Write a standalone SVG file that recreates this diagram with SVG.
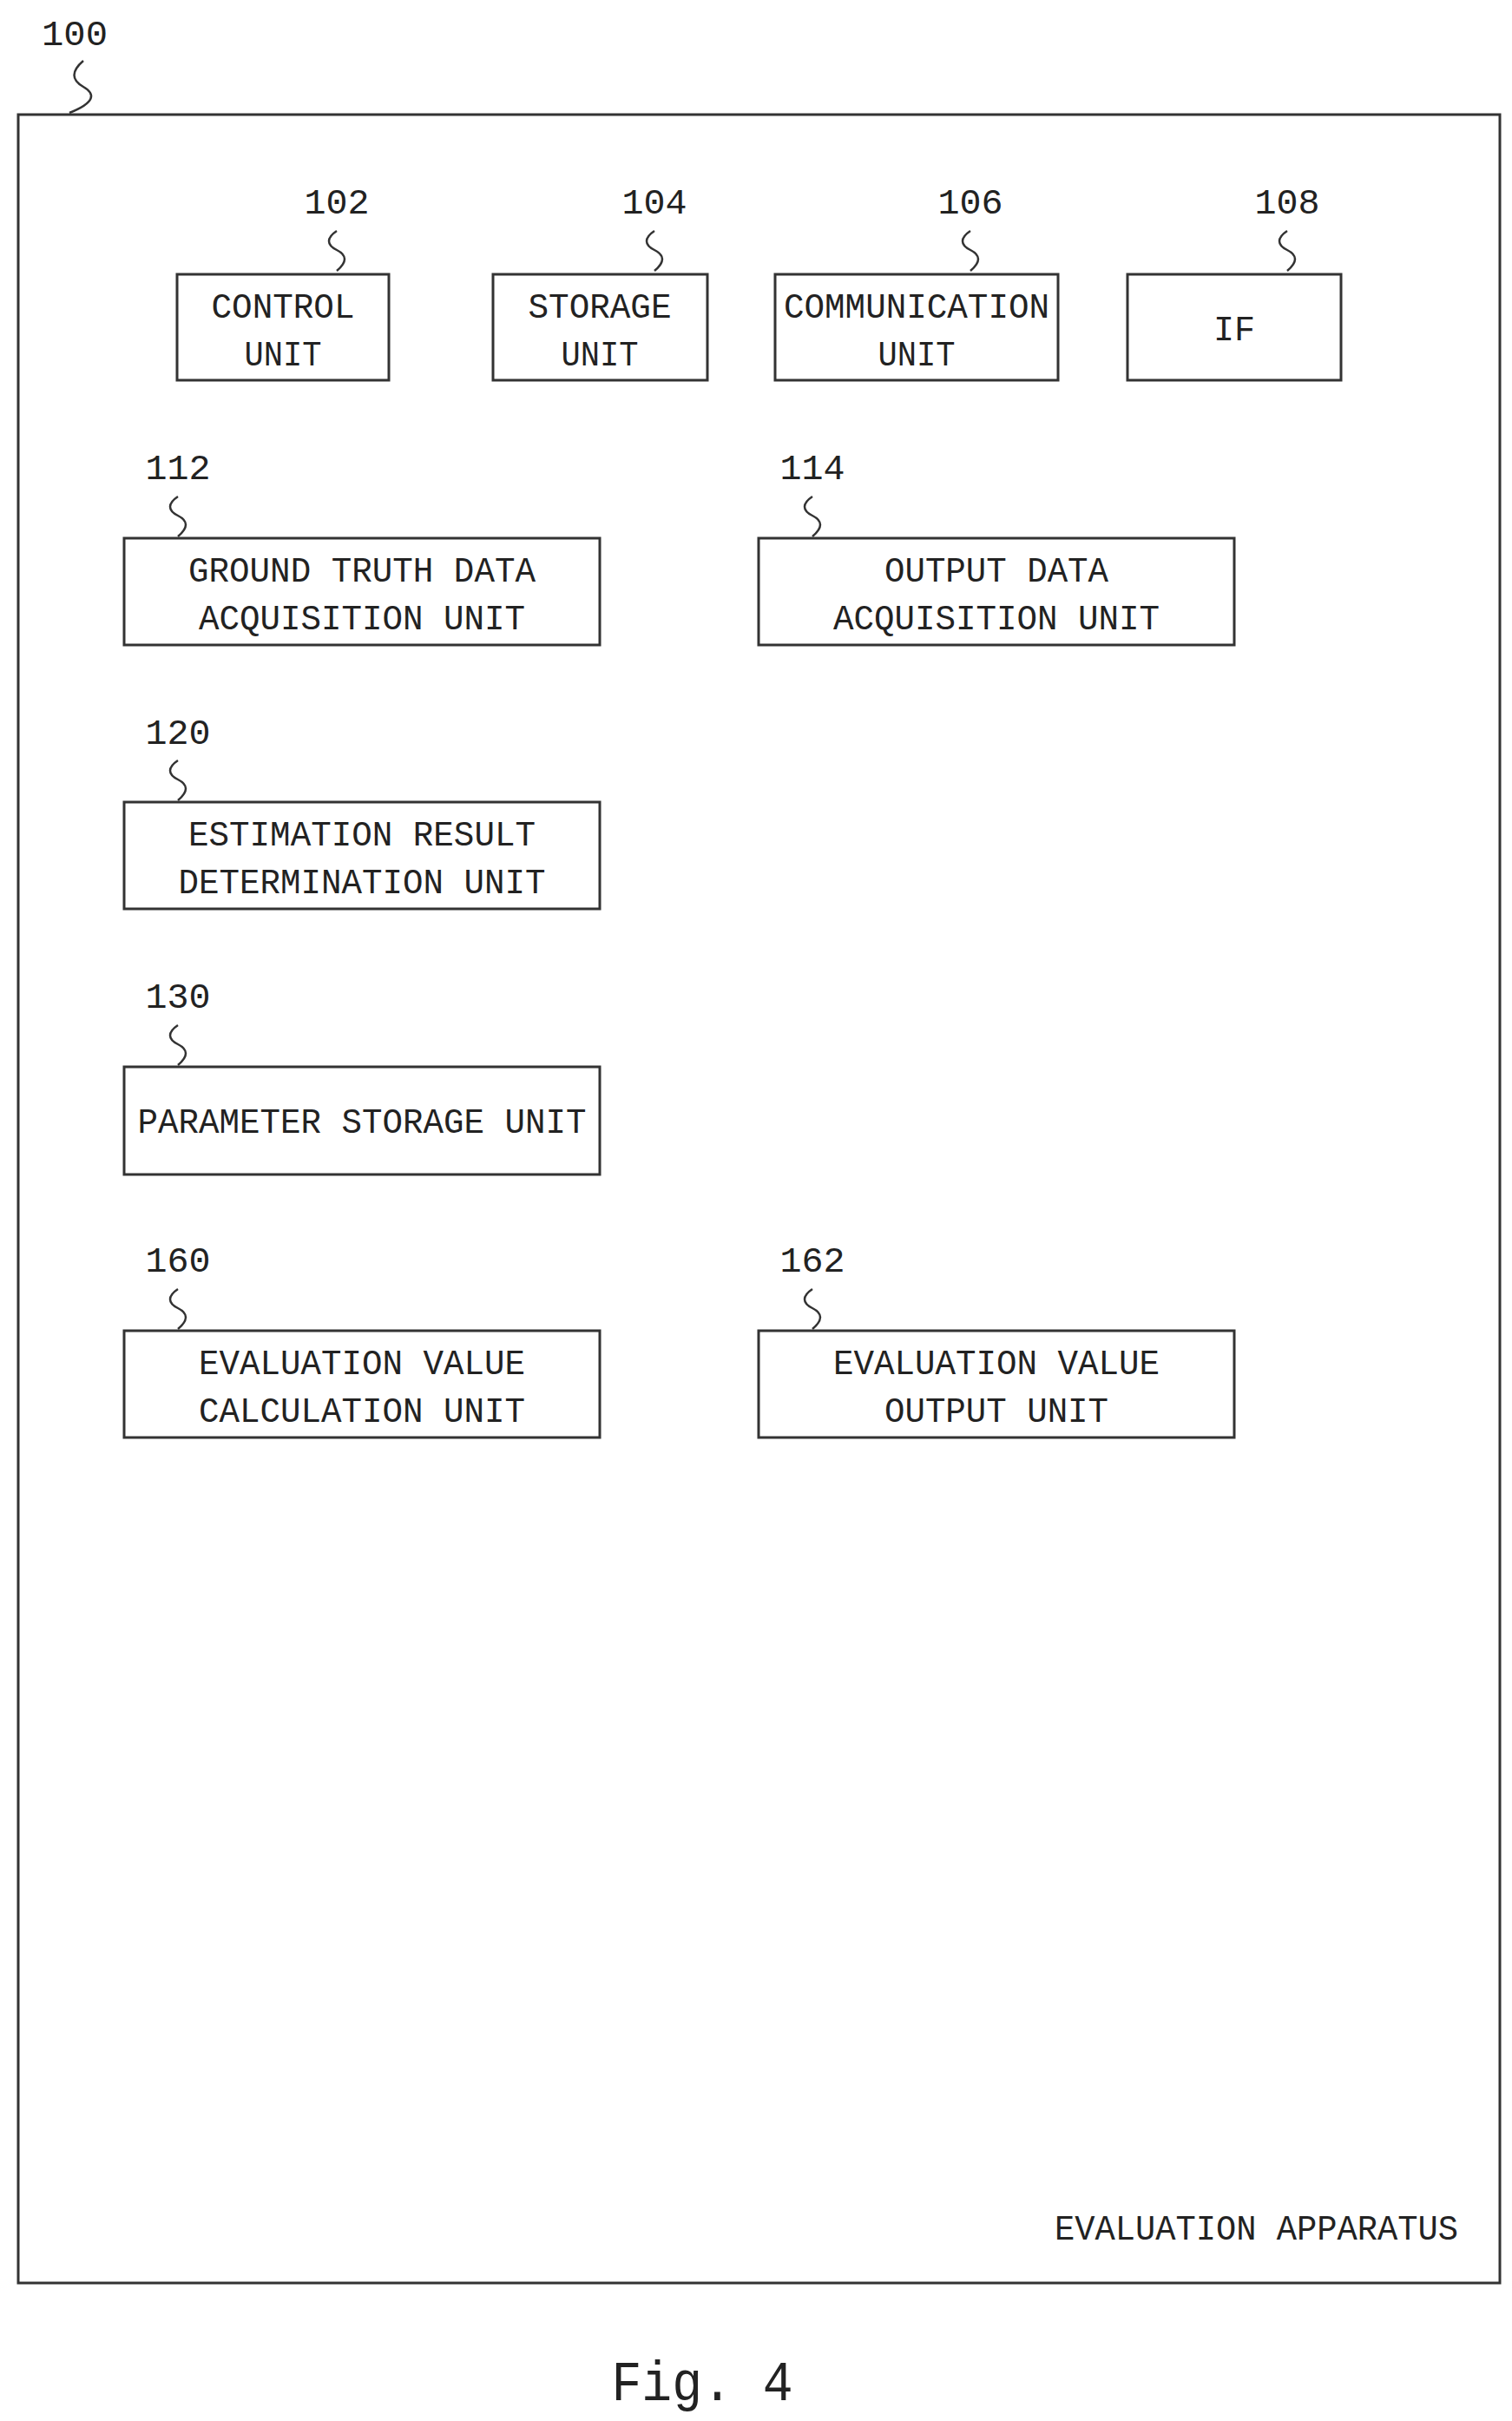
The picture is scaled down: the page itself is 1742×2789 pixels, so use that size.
<svg xmlns="http://www.w3.org/2000/svg" width="1742" height="2789" viewBox="0 0 1742 2789">
<style>
.b{fill:none;stroke:#333;stroke-width:3}
.t{font-family:"Liberation Mono",monospace;font-size:40px;fill:#222;text-anchor:middle}
.s{fill:none;stroke:#333;stroke-width:2.5}
</style>
<defs><path id="sq" class="s" d="M0 0 c-12 8 -12 16 0 22 s12 14 0 24"/></defs>
<rect width="1742" height="2789" fill="#fff"/>
<g id="n100">
<rect class="b" x="21" y="132" width="1707" height="2498"/>
<text class="t" x="86" y="52" textLength="76" lengthAdjust="spacingAndGlyphs">100</text>
<path class="s" d="M96 70 c-14 12 -14 22 0 30 s14 18 -16 30"/>
<text class="t" x="1680" y="2580" text-anchor="end" style="text-anchor:end" textLength="465" lengthAdjust="spacingAndGlyphs">EVALUATION APPARATUS</text>
</g>
<g id="n102"><rect class="b" x="204" y="316" width="244" height="122"/>
<text class="t" x="388" y="246" textLength="75" lengthAdjust="spacingAndGlyphs">102</text><use href="#sq" x="388" y="266"/>
<text class="t" x="326" y="366" textLength="165" lengthAdjust="spacingAndGlyphs">CONTROL</text>
<text class="t" x="326" y="421" textLength="89" lengthAdjust="spacingAndGlyphs">UNIT</text></g>
<g id="n104"><rect class="b" x="568" y="316" width="247" height="122"/>
<text class="t" x="754" y="246" textLength="75" lengthAdjust="spacingAndGlyphs">104</text><use href="#sq" x="754" y="266"/>
<text class="t" x="691" y="366" textLength="165" lengthAdjust="spacingAndGlyphs">STORAGE</text>
<text class="t" x="691" y="421" textLength="89" lengthAdjust="spacingAndGlyphs">UNIT</text></g>
<g id="n106"><rect class="b" x="893" y="316" width="326" height="122"/>
<text class="t" x="1118" y="246" textLength="75" lengthAdjust="spacingAndGlyphs">106</text><use href="#sq" x="1118" y="266"/>
<text class="t" x="1056" y="366" textLength="306" lengthAdjust="spacingAndGlyphs">COMMUNICATION</text>
<text class="t" x="1056" y="421" textLength="89" lengthAdjust="spacingAndGlyphs">UNIT</text></g>
<g id="n108"><rect class="b" x="1299" y="316" width="246" height="122"/>
<text class="t" x="1483" y="246" textLength="75" lengthAdjust="spacingAndGlyphs">108</text><use href="#sq" x="1483" y="266"/>
<text class="t" x="1422" y="392">IF</text></g>
<g id="n112"><rect class="b" x="143" y="620" width="548" height="123"/>
<text class="t" x="205" y="552" textLength="75" lengthAdjust="spacingAndGlyphs">112</text><use href="#sq" x="205" y="572"/>
<text class="t" x="417" y="670" textLength="400" lengthAdjust="spacingAndGlyphs">GROUND TRUTH DATA</text>
<text class="t" x="417" y="725" textLength="376" lengthAdjust="spacingAndGlyphs">ACQUISITION UNIT</text></g>
<g id="n114"><rect class="b" x="874" y="620" width="548" height="123"/>
<text class="t" x="936" y="552" textLength="75" lengthAdjust="spacingAndGlyphs">114</text><use href="#sq" x="936" y="572"/>
<text class="t" x="1148" y="670" textLength="258" lengthAdjust="spacingAndGlyphs">OUTPUT DATA</text>
<text class="t" x="1148" y="725" textLength="376" lengthAdjust="spacingAndGlyphs">ACQUISITION UNIT</text></g>
<g id="n120"><rect class="b" x="143" y="924" width="548" height="123"/>
<text class="t" x="205" y="857" textLength="75" lengthAdjust="spacingAndGlyphs">120</text><use href="#sq" x="205" y="876"/>
<text class="t" x="417" y="974" textLength="400" lengthAdjust="spacingAndGlyphs">ESTIMATION RESULT</text>
<text class="t" x="417" y="1029" textLength="423" lengthAdjust="spacingAndGlyphs">DETERMINATION UNIT</text></g>
<g id="n130"><rect class="b" x="143" y="1229" width="548" height="124"/>
<text class="t" x="205" y="1161" textLength="75" lengthAdjust="spacingAndGlyphs">130</text><use href="#sq" x="205" y="1181"/>
<text class="t" x="417" y="1305" textLength="517" lengthAdjust="spacingAndGlyphs">PARAMETER STORAGE UNIT</text></g>
<g id="n160"><rect class="b" x="143" y="1533" width="548" height="123"/>
<text class="t" x="205" y="1465" textLength="75" lengthAdjust="spacingAndGlyphs">160</text><use href="#sq" x="205" y="1485"/>
<text class="t" x="417" y="1583" textLength="376" lengthAdjust="spacingAndGlyphs">EVALUATION VALUE</text>
<text class="t" x="417" y="1638" textLength="376" lengthAdjust="spacingAndGlyphs">CALCULATION UNIT</text></g>
<g id="n162"><rect class="b" x="874" y="1533" width="548" height="123"/>
<text class="t" x="936" y="1465" textLength="75" lengthAdjust="spacingAndGlyphs">162</text><use href="#sq" x="936" y="1485"/>
<text class="t" x="1148" y="1583" textLength="376" lengthAdjust="spacingAndGlyphs">EVALUATION VALUE</text>
<text class="t" x="1148" y="1638" textLength="258" lengthAdjust="spacingAndGlyphs">OUTPUT UNIT</text></g>
<g id="connectors"/>
<text class="t" x="809" y="2765" style="font-size:64px" textLength="209" lengthAdjust="spacingAndGlyphs">Fig. 4</text>
</svg>
